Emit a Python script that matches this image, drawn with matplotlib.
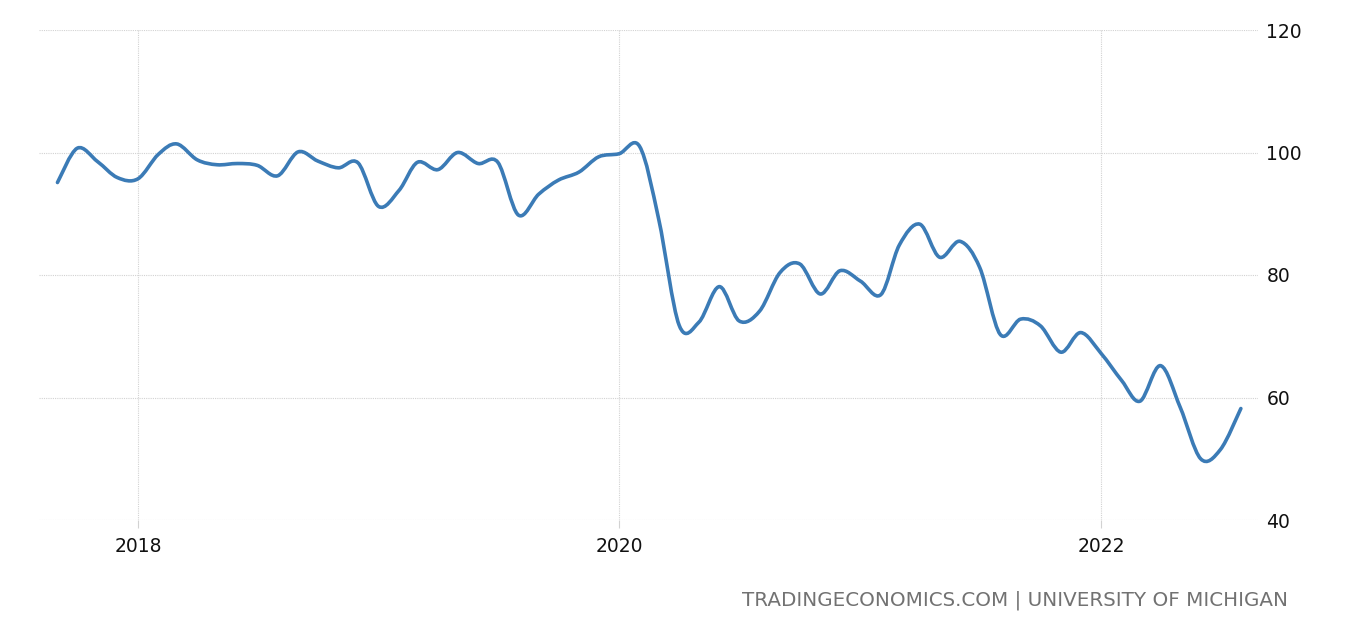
import numpy as np
import matplotlib
matplotlib.use("Agg")
import matplotlib.pyplot as plt
import matplotlib.dates as mdates
from matplotlib.path import Path
from matplotlib.patches import PathPatch
import datetime as dt

# monthly consumer sentiment, Sep 2017 - Aug 2022
start = dt.date(2017, 9, 1)
values = [95.1, 100.7, 98.5, 95.9,
          95.7, 99.7, 101.4, 98.8, 98.0, 98.2, 97.9, 96.2, 100.1, 98.6, 97.5, 98.3,
          91.2, 93.8, 98.4, 97.2, 100.0, 98.2, 98.4, 89.8, 93.2, 95.5, 96.8, 99.3,
          99.8, 101.0, 89.1, 71.8, 72.3, 78.1, 72.5, 74.1, 80.4, 81.8, 76.9, 80.7,
          79.0, 76.8, 84.9, 88.3, 82.9, 85.5, 81.2, 70.3, 72.8, 71.7, 67.4, 70.6,
          67.2, 62.8, 59.4, 65.2, 58.4, 50.0, 51.5, 58.2]
yticks = [40, 60, 80, 100, 120]
xtick_years = [2018, 2020, 2022]

dates = []
for i in range(len(values)):
    m = start.month - 1 + i
    dates.append(dt.date(start.year + m // 12, m % 12 + 1, 1))
x = mdates.date2num(dates)
y = np.array(values)

# smooth line: catmull-rom segments drawn as cubic beziers
verts = [(x[0], y[0])]
codes = [Path.MOVETO]
n = len(x)
for i in range(n - 1):
    x0, y0 = (x[i - 1], y[i - 1]) if i > 0 else (x[i], y[i])
    x3, y3 = (x[i + 2], y[i + 2]) if i + 2 < n else (x[i + 1], y[i + 1])
    c1 = (x[i] + (x[i + 1] - x0) / 6, y[i] + (y[i + 1] - y0) / 6)
    c2 = (x[i + 1] - (x3 - x[i]) / 6, y[i + 1] - (y3 - y[i]) / 6)
    verts += [c1, c2, (x[i + 1], y[i + 1])]
    codes += [Path.CURVE4] * 3

fig = plt.figure(figsize=(13.58, 6.25), dpi=100)
ax = fig.add_axes([39 / 1358, 1 - 520 / 625, (1258 - 39) / 1358, 490 / 625])

ax.add_patch(PathPatch(Path(verts, codes), facecolor="none", zorder=3,
                       edgecolor="#3b7bb6", lw=2.6, capstyle="round", joinstyle="round"))
ax.plot(x, y, alpha=0)

ax.set_xlim(mdates.date2num(dt.date(2017, 8, 4)), mdates.date2num(dt.date(2022, 8, 27)))
ax.set_ylim(40, 120)
ax.set_yticks(yticks)
ax.set_xticks([mdates.date2num(dt.date(yr, 1, 1)) for yr in xtick_years])
ax.set_xticklabels([str(yr) for yr in xtick_years])
ax.yaxis.tick_right()

for s in ax.spines.values():
    s.set_visible(False)
ax.grid(True, color="#d2d2d2", linestyle=(0, (1, 1)), linewidth=0.8)
ax.tick_params(axis="y", length=0, pad=6, labelsize=13.5, labelcolor="#111111")
ax.tick_params(axis="x", length=6, color="#d2d2d2", pad=6, labelsize=13.5, labelcolor="#111111")

fig.text(1288 / 1358, 1 - 600 / 625, "TRADINGECONOMICS.COM | UNIVERSITY OF MICHIGAN",
         ha="right", va="center", fontsize=14.3, color="#727272")

fig.savefig("out.png", dpi=100)
